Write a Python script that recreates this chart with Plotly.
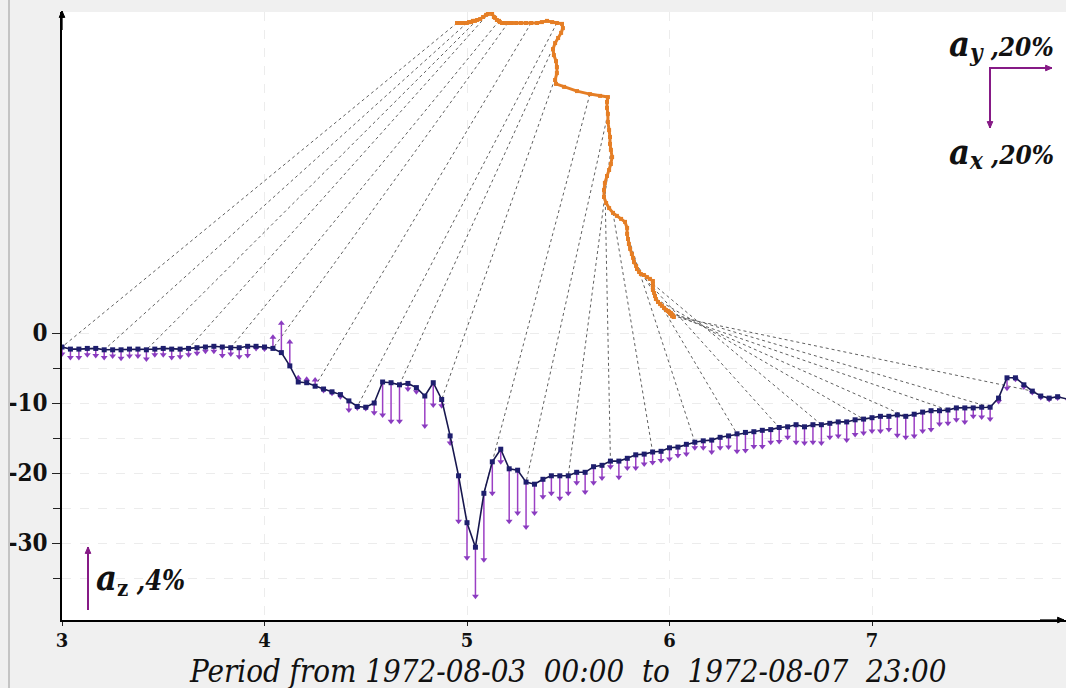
import plotly.graph_objects as go

# ---------------- data ----------------
# hourly values from 1972-08-03 00:00 to 1972-08-07 23:00 (x = day of month)
day_start = 3
n_hours = 120

dst = [-2.0, -2.3, -2.3, -2.2, -2.2, -2.4, -2.4, -2.4, -2.3, -2.3, -2.4, -2.3,
       -2.2, -2.3, -2.3, -2.2, -2.1, -2.0, -1.9, -2.0, -2.1, -2.1, -1.9, -1.9,
       -2.0, -2.2, -2.8, -4.7, -7.0, -7.1, -7.6, -8.0, -8.4, -8.8, -9.7, -10.5,
       -10.6, -10.0, -7.0, -7.1, -7.4, -7.2, -7.8, -9.0, -7.1, -9.5, -14.7, -20.4,
       -27.1, -30.6, -22.9, -18.4, -16.6, -19.4, -19.6, -21.3, -21.6, -20.9, -20.4, -20.4,
       -20.4, -19.9, -19.9, -19.1, -18.9, -18.3, -18.3, -17.9, -17.4, -17.3, -17.0, -16.9,
       -16.4, -16.3, -15.9, -15.6, -15.4, -15.3, -14.9, -14.7, -14.4, -14.2, -14.1, -13.9,
       -13.8, -13.5, -13.4, -13.1, -13.4, -13.1, -13.1, -12.9, -12.7, -12.7, -12.4, -12.3,
       -12.1, -11.9, -11.9, -11.7, -11.9, -11.6, -11.3, -11.1, -11.1, -11.0, -10.7, -10.7,
       -10.7, -10.6, -10.6, -9.3, -6.4, -6.4, -7.4, -8.3, -9.0, -9.3, -9.1, -9.4]

# vertical component a_z drawn as arrows from each point (axis units)
az = [-1.0, -1.2, -1.2, -0.9, -1.0, -1.1, -0.9, -1.2, -1.0, -1.0, -1.3, -0.8,
      -0.9, -1.2, -1.1, -0.9, -0.8, -0.6, -0.7, -1.2, -0.9, -1.3, -1.3, -0.3,
      -0.3, 1.6, 4.2, 3.4, 0.6, 0.5, 0.9, -0.2, -0.2, -0.3, -1.3, -0.2,
      -0.2, -1.4, -4.7, -5.5, -5.2, -0.8, -0.6, -4.3, -3.2, -0.9, -1.0, -6.5,
      -5.0, -7.0, -9.5, -4.5, -1.8, -7.5, -6.1, -6.4, -4.1, -2.5, -2.5, -3.2,
      -2.5, -1.5, -2.8, -2.3, -1.8, -0.8, -2.3, -1.4, -1.9, -1.4, -1.5, -1.3,
      -1.6, -1.2, -1.4, -0.8, -1.0, -1.7, -1.5, -1.6, -2.5, -2.6, -2.1, -2.3,
      -1.8, -2.0, -1.5, -2.5, -2.3, -2.5, -2.6, -2.0, -2.0, -2.6, -2.1, -2.0,
      -1.9, -2.1, -1.9, -2.9, -3.0, -3.1, -2.7, -2.7, -1.9, -1.9, -1.7, -2.0,
      -1.2, -1.4, -1.7, -0.5, -1.5, -0.2, -0.3, -0.2, -0.2, -0.2, -0.2, -0.2]

# horizontal hodograph (cumulative a_y to the right, a_x downward), in %
hodo_ay = [0.0, 0.7, 1.3, 2.0, 2.7, 3.3, 4.0, 4.7, 5.3, 6.0, 6.7, 7.7,
           8.7, 9.7, 10.3, 11.0, 11.7, 12.3, 12.7, 13.3, 14.0, 14.3, 15.0, 15.7,
           16.3, 17.0, 18.3, 19.7, 21.3, 23.0, 24.7, 26.7, 28.3, 30.0, 31.7, 33.3,
           35.0, 35.3, 34.7, 33.7, 32.7, 32.0, 32.3, 33.0, 33.3, 33.3, 32.7, 33.0,
           35.7, 40.0, 44.3, 47.7, 50.3, 50.0, 50.0, 50.3, 50.3, 50.7, 51.0, 51.0,
           51.3, 51.7, 51.3, 50.7, 50.0, 49.3, 49.0, 49.0, 49.7, 50.7, 52.0, 53.3,
           54.7, 56.0, 56.7, 56.7, 57.0, 57.3, 57.7, 58.3, 58.7, 59.0, 59.7, 60.0,
           60.7, 61.3, 62.3, 63.3, 64.3, 65.3, 65.3, 65.3, 65.3, 65.7, 66.0, 66.3,
           67.0, 67.7, 68.3, 69.0, 69.7, 70.3, 70.7, 71.0, 71.3, 71.7, 71.7, 71.7,
           71.3, 71.3, 71.0, 70.7, 71.0, 71.3, 71.7, 72.0, 72.3, 72.0, 71.7, 72.0]
hodo_ax = [0.0, 0.0, 0.0, 0.0, 0.0, 0.0, -0.3, -0.3, -0.7, -0.7, -1.0, -1.3,
           -2.0, -2.7, -3.0, -3.7, -3.0, -2.0, -1.7, -1.0, -0.7, -0.3, 0.0, 0.0,
           0.0, 0.0, 0.0, 0.0, 0.0, 0.0, 0.0, 0.0, -0.3, -0.7, -0.3, 0.0,
           0.3, 1.7, 3.3, 5.0, 6.7, 8.7, 10.7, 12.7, 14.7, 16.7, 19.0, 20.3,
           21.3, 22.7, 23.7, 24.3, 24.7, 26.3, 28.3, 30.3, 33.0, 35.7, 38.0, 40.3,
           42.3, 44.7, 47.0, 49.0, 51.0, 53.3, 55.7, 58.0, 60.0, 61.7, 63.3, 64.3,
           65.3, 66.3, 68.3, 70.3, 72.0, 73.7, 75.3, 77.0, 78.3, 79.7, 81.0, 82.0,
           83.0, 83.7, 84.0, 84.7, 85.3, 86.0, 87.0, 88.0, 89.0, 90.0, 91.0, 92.0,
           93.0, 93.7, 94.3, 95.0, 95.7, 96.0, 96.3, 96.7, 97.0, 97.3, 97.7, 97.3,
           97.0, 96.7, 96.7, 96.3, 96.7, 97.0, 97.3, 97.7, 98.0, 97.7, 97.3, 97.7]

link_step = 5          # hours between dashed links hodograph -> series
x_ticks = [3, 4, 5, 6, 7]
y_ticks = [0, -10, -20, -30]
y_minor = [-5, -15, -25, -35]
x_title = "Period from 1972-08-03  00:00  to  1972-08-07  23:00"

# ---------------- styling / placement ----------------
W, H = 1066, 688
ML, MR, MT, MB = 62, 0, 12, 68
X_RANGE = [3, 3 + (W - ML - MR) / 202.5]
Y_RANGE = [-41.0, 45.86]

HX0, HY0 = 4.9506, 44.29        # hodograph origin in axis units
SX, SY = 3 / 202.5, 3 / 7       # 1 % -> axis units

SERIES = "#17174f"
PURPLE = "#9b3fc4"
ORANGE = "#e57e25"
LEGEND = "#861a86"
FONT = "DejaVu Serif, serif"
FONT_C = "DejaVu Serif Condensed, DejaVu Serif, serif"

x = [day_start + h / 24 for h in range(n_hours)]
hx = [HX0 + a * SX for a in hodo_ay]
hy = [HY0 - a * SY for a in hodo_ax]

fig = go.Figure()

# dashed links
lx, ly = [], []
for i in range(0, n_hours, link_step):
    lx += [hx[i], x[i], None]
    ly += [hy[i], dst[i], None]
fig.add_trace(go.Scatter(x=lx, y=ly, mode="lines",
                         line=dict(color="#606060", width=1, dash="3px,3px"),
                         hoverinfo="skip", cliponaxis=False))

# a_z sticks
sx, sy = [], []
for i in range(n_hours):
    sx += [x[i], x[i], None]
    sy += [dst[i], dst[i] + az[i], None]
fig.add_trace(go.Scatter(x=sx, y=sy, mode="lines",
                         line=dict(color=PURPLE, width=1.5), hoverinfo="skip"))
tip_y = [d + a for d, a in zip(dst, az)]
tip_sym = ["triangle-up" if a > 0 else "triangle-down" for a in az]
fig.add_trace(go.Scatter(x=x, y=tip_y, mode="markers",
                         marker=dict(symbol=tip_sym, size=6, color="#8a3cc0"),
                         hoverinfo="skip"))

# main series
fig.add_trace(go.Scatter(x=x, y=dst, mode="lines+markers",
                         line=dict(color=SERIES, width=1.6),
                         marker=dict(symbol="square", size=5, color="#1e1e6e"),
                         hoverinfo="skip"))

# hodograph
fig.add_trace(go.Scatter(x=hx, y=hy, mode="lines+markers",
                         line=dict(color=ORANGE, width=3),
                         marker=dict(symbol="square", size=4, color=ORANGE),
                         hoverinfo="skip", cliponaxis=False))


def px(xp):
    return (xp - ML) / (W - ML - MR)


def py(yp):
    return (H - MB - yp) / (H - MT - MB)


shapes = [
    dict(type="line", xref="paper", yref="paper", x0=px(9), x1=px(9), y0=py(0), y1=py(688),
         line=dict(color="#c4c4c4", width=2)),
]


def arrow(x0, y0, x1, y1, color, width, head=5):
    """arrow from pixel (x0,y0) to (x1,y1) built from layout shapes"""
    shapes.append(dict(type="line", xref="paper", yref="paper",
                       x0=px(x0), y0=py(y0), x1=px(x1), y1=py(y1),
                       line=dict(color=color, width=width)))
    if x0 == x1:
        s = 1 if y1 > y0 else -1
        pts = [(x1, y1), (x1 - head * 0.7, y1 - s * head * 1.6), (x1 + head * 0.7, y1 - s * head * 1.6)]
    else:
        s = 1 if x1 > x0 else -1
        pts = [(x1, y1), (x1 - s * head * 1.6, y1 - head * 0.7), (x1 - s * head * 1.6, y1 + head * 0.7)]
    path = "M " + " L ".join(f"{px(a):.5f},{py(b):.5f}" for a, b in pts) + " Z"
    shapes.append(dict(type="path", xref="paper", yref="paper", path=path,
                       fillcolor=color, line=dict(color=color, width=1)))


# axis arrows
arrow(62, 30, 62, 11, "black", 1.3, head=4)
arrow(1040, 620, 1064, 620, "black", 1.3, head=4)
# legend arrows
arrow(990, 68, 990, 128, LEGEND, 2, head=4)
arrow(989, 68, 1052, 68, LEGEND, 2, head=4)
arrow(88, 610, 88, 547, LEGEND, 2, head=4)


def lab(sub, pct, upright=False):
    s = (f"<b><span style='font-size:22px'>{sub}</span></b>" if upright
         else f"<i><b><span style='font-size:24px'>{sub}</span></b></i>")
    return ("<i><b><span style='font-size:36px'>a</span></b></i>"
            f"<sub>{s}</sub>"
            f"<i><b> ,{pct}</b></i>")


ann = [
    dict(x=px(1056), y=py(44), xref="paper", yref="paper", showarrow=False,
         xanchor="right", yanchor="middle", text=lab("y", "20%"),
         font=dict(family=FONT_C, size=26, color="#111")),
    dict(x=px(1056), y=py(152), xref="paper", yref="paper", showarrow=False,
         xanchor="right", yanchor="middle", text=lab("x", "20%"),
         font=dict(family=FONT_C, size=26, color="#111")),
    dict(x=px(94), y=py(578), xref="paper", yref="paper", showarrow=False,
         xanchor="left", yanchor="middle", text=lab("z", "4%", upright=True),
         font=dict(family=FONT_C, size=27, color="#111")),
    dict(x=px(567), y=py(671), xref="paper", yref="paper", showarrow=False,
         xanchor="center", yanchor="middle", text=f"<i>{x_title}</i>",
         font=dict(family=FONT_C, size=31, color="#111")),
]

grid = dict(showgrid=True, gridcolor="#ececec", griddash="dash", gridwidth=1)

fig.update_layout(
    width=W, height=H,
    margin=dict(l=ML, r=MR, t=MT, b=MB),
    paper_bgcolor="#f0f0f0", plot_bgcolor="white",
    showlegend=False,
    font=dict(family=FONT, color="#111"),
    annotations=ann, shapes=shapes,
    xaxis=dict(range=X_RANGE, tickvals=x_ticks, ticktext=[f"<b>{v}</b>" for v in x_ticks],
               ticks="outside", ticklen=4, tickcolor="#222", showline=True,
               linecolor="black", linewidth=1.5, zeroline=False,
               tickfont=dict(family=FONT, size=18, color="#111"),
               **grid),
    yaxis=dict(range=Y_RANGE, tickvals=y_ticks, ticktext=[f"<b>{v}</b>" for v in y_ticks],
               ticks="outside", ticklen=8, tickcolor="#222", showline=True,
               linecolor="black", linewidth=1.5, zeroline=False,
               tickfont=dict(family=FONT_C, size=24, color="#111"),
               minor=dict(tickvals=y_minor, ticks="outside", ticklen=7, tickcolor="#222",
                          showgrid=True, gridcolor="#ececec", griddash="dash"),
               **grid),
)

fig.write_html("out.html")
